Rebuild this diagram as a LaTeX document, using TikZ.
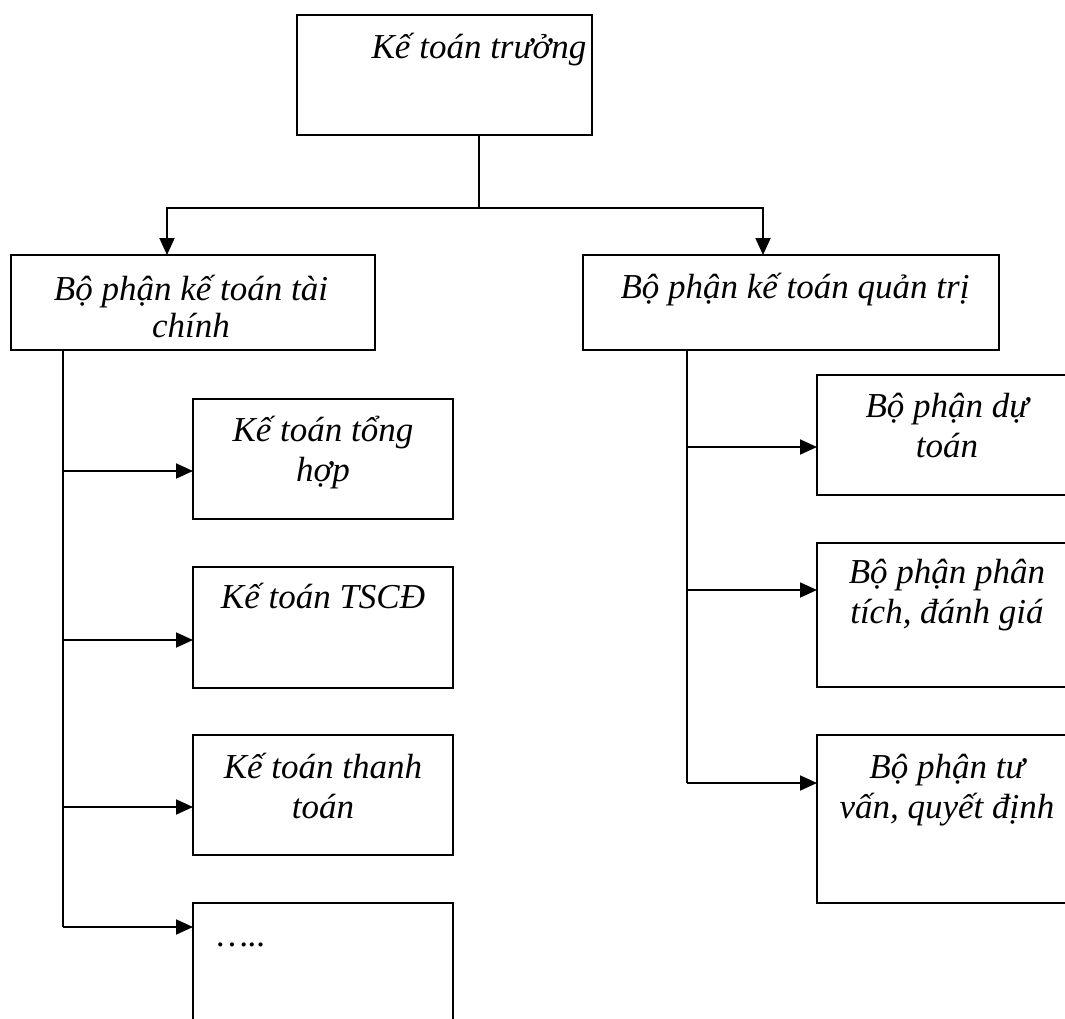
\documentclass[tikz,border=0pt]{standalone}
\usepackage{fontspec}
\setmainfont{Liberation Serif}
\usetikzlibrary{arrows.meta}
\begin{document}
\begin{tikzpicture}[x=1pt,y=-1pt,
  box/.style={draw, line width=1.9pt, rectangle, inner sep=0pt, outer sep=0pt, anchor=north west},
  lbl/.style={font=\fontsize{35}{40}\selectfont\itshape, inner sep=0pt, align=center, anchor=base},
  link/.style={line width=1.9pt},
  arr/.style={link, -{Triangle[length=17pt,width=15pt]}}]
\useasboundingbox (0,0) rectangle (1065,1018);
\clip (0,0) rectangle (1065,1018);

% boxes
\node[box, minimum width=295pt, minimum height=120pt] (top) at (297,15) {};
\node[box, minimum width=364pt, minimum height=95pt]  (lb)  at (11,255) {};
\node[box, minimum width=416pt, minimum height=95pt]  (rb)  at (583,255) {};
\node[box, minimum width=260pt, minimum height=120pt] (c1)  at (193,399) {};
\node[box, minimum width=260pt, minimum height=121pt] (c2)  at (193,567) {};
\node[box, minimum width=260pt, minimum height=120pt] (c3)  at (193,735) {};
\node[box, minimum width=260pt, minimum height=170pt] (c4)  at (193,903) {};
\node[box, minimum width=260pt, minimum height=120pt] (r1)  at (817,375) {};
\node[box, minimum width=260pt, minimum height=144pt] (r2)  at (817,543) {};
\node[box, minimum width=260pt, minimum height=168pt] (r3)  at (817,735) {};

% texts (base anchor sits on the last line)
\node[lbl] (ttop) at (479,58) {Kế toán trưởng};
\node[lbl, font=\fontsize{35}{37}\selectfont\itshape] (tlb) at (191,337) {Bộ phận kế toán tài\\chính};
\node[lbl] (trb) at (795,298) {Bộ phận kế toán quản trị};
\node[lbl] (tc1) at (323,481) {Kế toán tổng\\hợp};
\node[lbl] (tc2) at (323,608) {Kế toán TSCĐ};
\node[lbl] (tc3) at (323,818) {Kế toán thanh\\toán};
\node[lbl, anchor=base west] (tc4) at (217,946) {…..};
\node[lbl] (tr1) at (947,457) {Bộ phận dự\\toán};
\node[lbl] (tr2) at (947,623) {Bộ phận phân\\tích, đánh giá};
\node[lbl] (tr3) at (947,818) {Bộ phận tư\\vấn, quyết định};

% junctions
\coordinate (j)  at (479,208);
\coordinate (jl) at (167,208);
\coordinate (jr) at (763,208);
\coordinate (lt) at (63,350);
\coordinate (rt) at (687,350);
\coordinate (a1) at (63,471);
\coordinate (a2) at (63,640);
\coordinate (a3) at (63,807);
\coordinate (a4) at (63,927);
\coordinate (b1) at (687,447);
\coordinate (b2) at (687,590);
\coordinate (b3) at (687,783);

% connectors from the head box
\draw[link] (top.south -| j) -- (j);
\draw[link, line cap=rect] (jl) -- (jr);
\draw[arr] (jl) -- (jl |- lb.north);
\draw[arr] (jr) -- (jr |- rb.north);

% left branch
\draw[link] (lb.south -| lt) -- (a4);
\draw[arr] (a1) -- (a1 -| c1.west);
\draw[arr] (a2) -- (a2 -| c2.west);
\draw[arr] (a3) -- (a3 -| c3.west);
\draw[arr] (a4) -- (a4 -| c4.west);

% right branch
\draw[link] (rb.south -| rt) -- (b3);
\draw[arr] (b1) -- (b1 -| r1.west);
\draw[arr] (b2) -- (b2 -| r2.west);
\draw[arr] (b3) -- (b3 -| r3.west);
\end{tikzpicture}
\end{document}
